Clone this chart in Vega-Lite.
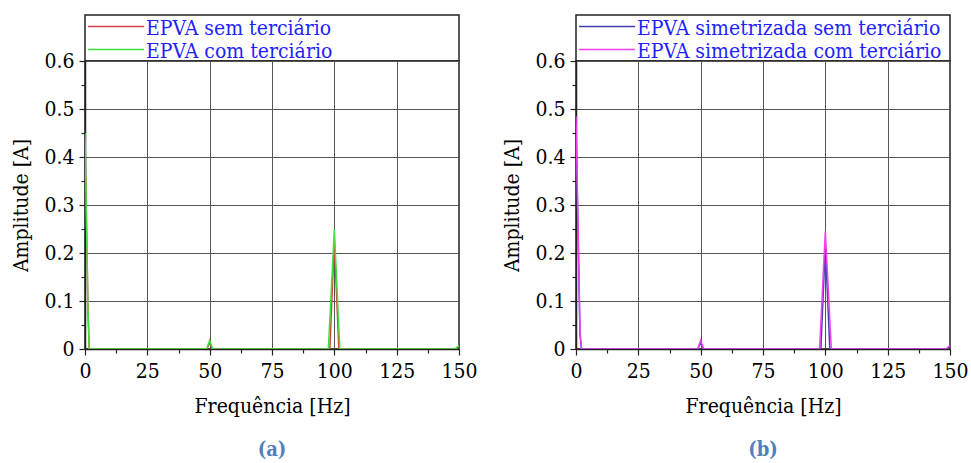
{
  "$schema": "https://vega.github.io/schema/vega-lite/v6.json",
  "background": "white",
  "padding": {"left": 10, "top": 14, "right": 5, "bottom": 0},
  "columns": 2,
  "bounds": "flush",
  "spacing": {"row": 0, "column": 117},
  "resolve": {"scale": {"color": "independent"}},
  "concat": [
    {
      "width": 374, "height": 46,
      "data": {"values": [{"series": "EPVA sem terciário"}, {"series": "EPVA com terciário"}]},
      "encoding": {"y": {"field": "series", "type": "nominal", "scale": {"type": "point", "padding": 0.5, "domain": ["EPVA sem terciário", "EPVA com terciário"]}, "axis": null}},
      "layer": [
        {"mark": {"type": "rule", "strokeWidth": 1.5},
         "encoding": {"x": {"datum": 0.008, "type": "quantitative", "scale": {"domain": [0, 1]}, "axis": null}, "x2": {"datum": 0.158},
                      "color": {"field": "series", "type": "nominal", "scale": {"domain": ["EPVA sem terciário", "EPVA com terciário"], "range": ["#d84040", "#40e040"]}, "legend": null}}},
        {"mark": {"type": "text", "align": "left", "baseline": "middle", "dy": 2, "font": "DejaVu Serif Condensed, DejaVu Serif", "fontSize": 21, "color": "#1f1fff"},
         "encoding": {"x": {"datum": 0.163, "type": "quantitative"}, "text": {"field": "series"}}}
      ]
    },
    {
      "width": 374, "height": 46,
      "data": {"values": [{"series": "EPVA simetrizada sem terciário"}, {"series": "EPVA simetrizada com terciário"}]},
      "encoding": {"y": {"field": "series", "type": "nominal", "scale": {"type": "point", "padding": 0.5, "domain": ["EPVA simetrizada sem terciário", "EPVA simetrizada com terciário"]}, "axis": null}},
      "layer": [
        {"mark": {"type": "rule", "strokeWidth": 1.5},
         "encoding": {"x": {"datum": 0.008, "type": "quantitative", "scale": {"domain": [0, 1]}, "axis": null}, "x2": {"datum": 0.158},
                      "color": {"field": "series", "type": "nominal", "scale": {"domain": ["EPVA simetrizada sem terciário", "EPVA simetrizada com terciário"], "range": ["#4040b0", "#f040f0"]}, "legend": null}}},
        {"mark": {"type": "text", "align": "left", "baseline": "middle", "dy": 2, "font": "DejaVu Serif Condensed, DejaVu Serif", "fontSize": 21, "color": "#1f1fff"},
         "encoding": {"x": {"datum": 0.163, "type": "quantitative"}, "text": {"field": "series"}}}
      ]
    },
    {
      "width": 374, "height": 288,
      "title": {"text": "(a)", "orient": "bottom", "anchor": "middle", "frame": "group", "font": "DejaVu Serif Condensed, DejaVu Serif", "fontSize": 20, "fontWeight": "bold", "color": "#4f81bd", "offset": 24},
      "data": {"values": [
        {"s": "EPVA sem terciário", "f": 0, "a": 0.44},
        {"s": "EPVA sem terciário", "f": 1.2, "a": 0.08},
        {"s": "EPVA sem terciário", "f": 1.7, "a": 0},
        {"s": "EPVA sem terciário", "f": 48.8, "a": 0},
        {"s": "EPVA sem terciário", "f": 50, "a": 0.012},
        {"s": "EPVA sem terciário", "f": 51.2, "a": 0},
        {"s": "EPVA sem terciário", "f": 98.2, "a": 0},
        {"s": "EPVA sem terciário", "f": 100, "a": 0.225},
        {"s": "EPVA sem terciário", "f": 101.8, "a": 0},
        {"s": "EPVA sem terciário", "f": 148.5, "a": 0},
        {"s": "EPVA sem terciário", "f": 150, "a": 0.006},
        {"s": "EPVA com terciário", "f": 0, "a": 0.45},
        {"s": "EPVA com terciário", "f": 1.2, "a": 0.08},
        {"s": "EPVA com terciário", "f": 1.7, "a": 0},
        {"s": "EPVA com terciário", "f": 48.8, "a": 0},
        {"s": "EPVA com terciário", "f": 50, "a": 0.018},
        {"s": "EPVA com terciário", "f": 51.2, "a": 0},
        {"s": "EPVA com terciário", "f": 97.6, "a": 0},
        {"s": "EPVA com terciário", "f": 100, "a": 0.25},
        {"s": "EPVA com terciário", "f": 102.2, "a": 0},
        {"s": "EPVA com terciário", "f": 148.5, "a": 0},
        {"s": "EPVA com terciário", "f": 150, "a": 0.008}
      ]},
      "mark": {"type": "line", "strokeWidth": 1.5, "clip": true},
      "encoding": {
        "x": {"field": "f", "type": "quantitative", "scale": {"domain": [0, 150], "nice": false},
              "axis": {"values": [0, 12.5, 25, 37.5, 50, 62.5, 75, 87.5, 100, 112.5, 125, 137.5, 150],
                       "labelExpr": "datum.value % 25 == 0 ? format(datum.value, 'd') : ''",
                       "labelFlush": false, "labelOverlap": false, "labelPadding": 5,
                       "gridOpacity": {"condition": {"test": "datum.value % 25 == 0", "value": 1}, "value": 0},
                       "tickSize": {"condition": {"test": "datum.value % 25 == 0", "value": 6}, "value": 4},
                       "title": "Frequência [Hz]", "titlePadding": 14}},
        "y": {"field": "a", "type": "quantitative", "scale": {"domain": [0, 0.6], "nice": false},
              "axis": {"values": [0, 0.05, 0.1, 0.15, 0.2, 0.25, 0.3, 0.35, 0.4, 0.45, 0.5, 0.55, 0.6],
                       "labelExpr": "abs(datum.value*10 - round(datum.value*10)) < 0.001 ? format(datum.value, '.1~f') : ''",
                       "labelOverlap": false, "labelPadding": 5,
                       "gridOpacity": {"condition": {"test": "abs(datum.value*10 - round(datum.value*10)) < 0.001", "value": 1}, "value": 0},
                       "tickSize": {"condition": {"test": "abs(datum.value*10 - round(datum.value*10)) < 0.001", "value": 6}, "value": 4},
                       "title": "Amplitude [A]", "titlePadding": 12}},
        "color": {"field": "s", "type": "nominal", "scale": {"domain": ["EPVA sem terciário", "EPVA com terciário"], "range": ["#d84040", "#40e040"]}, "legend": null}
      }
    },
    {
      "width": 374, "height": 288,
      "title": {"text": "(b)", "orient": "bottom", "anchor": "middle", "frame": "group", "font": "DejaVu Serif Condensed, DejaVu Serif", "fontSize": 20, "fontWeight": "bold", "color": "#4f81bd", "offset": 24},
      "data": {"values": [
        {"s": "EPVA simetrizada sem terciário", "f": 0, "a": 0.47},
        {"s": "EPVA simetrizada sem terciário", "f": 1.6, "a": 0.03},
        {"s": "EPVA simetrizada sem terciário", "f": 2.2, "a": 0},
        {"s": "EPVA simetrizada sem terciário", "f": 48.8, "a": 0},
        {"s": "EPVA simetrizada sem terciário", "f": 50, "a": 0.012},
        {"s": "EPVA simetrizada sem terciário", "f": 51.2, "a": 0},
        {"s": "EPVA simetrizada sem terciário", "f": 98.2, "a": 0},
        {"s": "EPVA simetrizada sem terciário", "f": 100, "a": 0.215},
        {"s": "EPVA simetrizada sem terciário", "f": 101.8, "a": 0},
        {"s": "EPVA simetrizada sem terciário", "f": 148.5, "a": 0},
        {"s": "EPVA simetrizada sem terciário", "f": 150, "a": 0.006},
        {"s": "EPVA simetrizada com terciário", "f": 0, "a": 0.485},
        {"s": "EPVA simetrizada com terciário", "f": 1.6, "a": 0.04},
        {"s": "EPVA simetrizada com terciário", "f": 2.2, "a": 0},
        {"s": "EPVA simetrizada com terciário", "f": 48.8, "a": 0},
        {"s": "EPVA simetrizada com terciário", "f": 50, "a": 0.018},
        {"s": "EPVA simetrizada com terciário", "f": 51.2, "a": 0},
        {"s": "EPVA simetrizada com terciário", "f": 97.7, "a": 0},
        {"s": "EPVA simetrizada com terciário", "f": 100, "a": 0.245},
        {"s": "EPVA simetrizada com terciário", "f": 102.4, "a": 0},
        {"s": "EPVA simetrizada com terciário", "f": 148.5, "a": 0},
        {"s": "EPVA simetrizada com terciário", "f": 150, "a": 0.008}
      ]},
      "mark": {"type": "line", "strokeWidth": 1.5, "clip": true},
      "encoding": {
        "x": {"field": "f", "type": "quantitative", "scale": {"domain": [0, 150], "nice": false},
              "axis": {"values": [0, 12.5, 25, 37.5, 50, 62.5, 75, 87.5, 100, 112.5, 125, 137.5, 150],
                       "labelExpr": "datum.value % 25 == 0 ? format(datum.value, 'd') : ''",
                       "labelFlush": false, "labelOverlap": false, "labelPadding": 5,
                       "gridOpacity": {"condition": {"test": "datum.value % 25 == 0", "value": 1}, "value": 0},
                       "tickSize": {"condition": {"test": "datum.value % 25 == 0", "value": 6}, "value": 4},
                       "title": "Frequência [Hz]", "titlePadding": 14}},
        "y": {"field": "a", "type": "quantitative", "scale": {"domain": [0, 0.6], "nice": false},
              "axis": {"values": [0, 0.05, 0.1, 0.15, 0.2, 0.25, 0.3, 0.35, 0.4, 0.45, 0.5, 0.55, 0.6],
                       "labelExpr": "abs(datum.value*10 - round(datum.value*10)) < 0.001 ? format(datum.value, '.1~f') : ''",
                       "labelOverlap": false, "labelPadding": 5,
                       "gridOpacity": {"condition": {"test": "abs(datum.value*10 - round(datum.value*10)) < 0.001", "value": 1}, "value": 0},
                       "tickSize": {"condition": {"test": "abs(datum.value*10 - round(datum.value*10)) < 0.001", "value": 6}, "value": 4},
                       "title": "Amplitude [A]", "titlePadding": 12}},
        "color": {"field": "s", "type": "nominal", "scale": {"domain": ["EPVA simetrizada sem terciário", "EPVA simetrizada com terciário"], "range": ["#4040b0", "#f040f0"]}, "legend": null}
      }
    }
  ],
  "config": {
    "view": {"stroke": "#222", "strokeWidth": 1.5},
    "axis": {"labelFont": "DejaVu Serif Condensed, DejaVu Serif", "labelFontSize": 21, "labelColor": "#000",
             "titleFont": "DejaVu Serif Condensed, DejaVu Serif", "titleFontSize": 21, "titleFontWeight": "normal", "titleColor": "#000",
             "gridColor": "#555", "gridWidth": 1, "domainColor": "#222", "domainWidth": 1.5, "tickColor": "#222", "tickWidth": 1.2}
  }
}
